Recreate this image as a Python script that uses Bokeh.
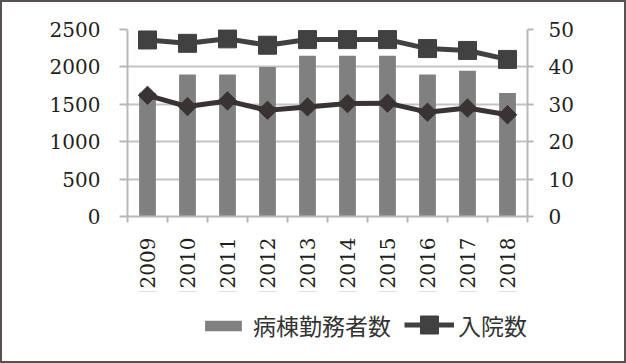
from bokeh.plotting import figure
from bokeh.layouts import column
from bokeh.models import (Range1d, FactorRange, LinearAxis, FixedTicker,
                          Legend, LegendItem, ColumnDataSource)
from bokeh.embed import file_html
from bokeh.resources import INLINE
import math

years = ["2009", "2010", "2011", "2012", "2013", "2014", "2015", "2016", "2017", "2018"]
staff = [1650, 1900, 1900, 2000, 2150, 2150, 2150, 1900, 1950, 1650]          # 病棟勤務者数 (left axis)
admissions = [47.2, 46.3, 47.5, 45.8, 47.3, 47.3, 47.3, 44.9, 44.4, 42.0]      # 入院数 (right axis)
surgeries = [32.4, 29.4, 30.9, 28.4, 29.3, 30.2, 30.3, 27.9, 29.0, 27.2]       # 手術件数 (right axis)
series_names = ["病棟勤務者数", "入院数", "手術件数"]
left_ticks = [0, 500, 1000, 1500, 2000, 2500]
right_ticks = [0, 10, 20, 30, 40, 50]

src = ColumnDataSource(dict(year=years, staff=staff, adm=admissions, surg=surgeries))

NUM_FONT = "DejaVu Serif"
CJK_FONT = "Noto Sans CJK JP"
AXIS_GRAY = "#b8b8b8"
TEXT = "#231f20"
BAR = "#808080"
SQ = "#414141"
DI = "#3a3334"
EDGE = "#5a5252"

# ---------------- main chart ----------------
p = figure(x_range=FactorRange(*years, range_padding=0), y_range=Range1d(0, 2500),
           width=626, height=291,
           min_border_left=127, min_border_right=99, min_border_top=29, min_border_bottom=73,
           x_axis_location=None, y_axis_location=None,
           output_backend="svg", toolbar_location=None, background_fill_color="white",
           border_fill_color="white", border_fill_alpha=0)
p.outline_line_color = None
p.styles = {"box-shadow": f"inset 2px 0 0 0 {EDGE}, inset -2px 0 0 0 {EDGE}, inset 0 2px 0 0 {EDGE}",
            "background-color": "white"}
p.extra_y_ranges = {"right": Range1d(0, 50)}

def style_axis(ax, tick_out, standoff):
    ax.axis_line_color = AXIS_GRAY
    ax.axis_line_width = 2
    ax.major_tick_line_color = AXIS_GRAY
    ax.major_tick_line_width = 2
    ax.major_tick_in = 0
    ax.major_tick_out = tick_out
    ax.minor_tick_line_color = None
    ax.major_label_standoff = standoff
    ax.major_label_text_font = NUM_FONT
    ax.major_label_text_font_size = "20px"
    ax.major_label_text_color = TEXT

yl = LinearAxis(ticker=FixedTicker(ticks=left_ticks))
style_axis(yl, 8, 19)
p.add_layout(yl, "left")

yr = LinearAxis(y_range_name="right", ticker=FixedTicker(ticks=right_ticks))
style_axis(yr, 6, 15)
p.add_layout(yr, "right")

# bottom axis: labels at category centres, tick marks at category boundaries
centres = [i + 0.5 for i in range(len(years))]
bounds = list(range(len(years) + 1))
xa = LinearAxis(ticker=FixedTicker(ticks=centres, minor_ticks=bounds))
style_axis(xa, 0, 15)
xa.major_tick_line_color = None
xa.minor_tick_line_color = AXIS_GRAY
xa.minor_tick_line_width = 2
xa.minor_tick_in = 0
xa.minor_tick_out = 6
xa.major_label_overrides = {c: y for c, y in zip(centres, years)}
xa.major_label_orientation = math.pi / 2
p.add_layout(xa, "below")

p.xgrid.grid_line_color = None
p.ygrid.grid_line_color = "#c4c4c4"
p.ygrid.grid_line_width = 2
p.ygrid.ticker = FixedTicker(ticks=left_ticks)

def draw_series(fig, **kw):
    b = fig.vbar(x="year", top="staff", width=0.42, source=src, fill_color=BAR, line_color=None)
    l1 = fig.line(x="year", y="adm", source=src, line_color=SQ, line_width=5, **kw)
    s1 = fig.scatter(x="year", y="adm", source=src, marker="square", size=18,
                     fill_color=SQ, line_color=SQ, **kw)
    l2 = fig.line(x="year", y="surg", source=src, line_color=DI, line_width=5, **kw)
    s2 = fig.scatter(x="year", y="surg", source=src, marker="square", angle=math.pi / 4,
                     size=13, fill_color=DI, line_color=DI, **kw)
    return b, l1, s1, l2, s2

draw_series(p, y_range_name="right")

# ---------------- legend strip (same series, plotted outside its visible range) ----------------
q = figure(x_range=FactorRange(*years, range_padding=0), y_range=Range1d(-2, -1),
           width=626, height=72,
           min_border_left=0, min_border_right=0, min_border_top=0, min_border_bottom=0,
           x_axis_location=None, y_axis_location=None,
           output_backend="svg", toolbar_location=None,
           background_fill_alpha=0, border_fill_alpha=0)
q.outline_line_color = None
q.grid.visible = False
q.styles = {"box-shadow": f"inset 2px 0 0 0 {EDGE}, inset -2px 0 0 0 {EDGE}, inset 0 -2px 0 0 {EDGE}",
            "background-color": "white"}

kb, kl1, ks1, kl2, ks2 = draw_series(q)

def make_legend(label, renderers, loc, gw, gh, standoff):
    lg = Legend(items=[LegendItem(label=label, renderers=renderers)],
                orientation="horizontal", location=loc)
    lg.label_text_font = CJK_FONT
    lg.label_text_font_size = "23px"
    lg.label_text_color = "#333333"
    lg.glyph_width = gw
    lg.glyph_height = gh
    lg.label_standoff = standoff
    lg.padding = 0
    lg.margin = 0
    lg.border_line_color = None
    lg.background_fill_alpha = 0
    q.add_layout(lg, "center")

make_legend(series_names[0], [kb], (73, 21), 46, 13, 7)
make_legend(series_names[1], [kl1, ks1], (277, 16), 50, 45, 4)
make_legend(series_names[2], [kl2, ks2], (411, 21), 50, 30, 4)

open("out.html", "w").write(file_html(column(p, q), INLINE))
